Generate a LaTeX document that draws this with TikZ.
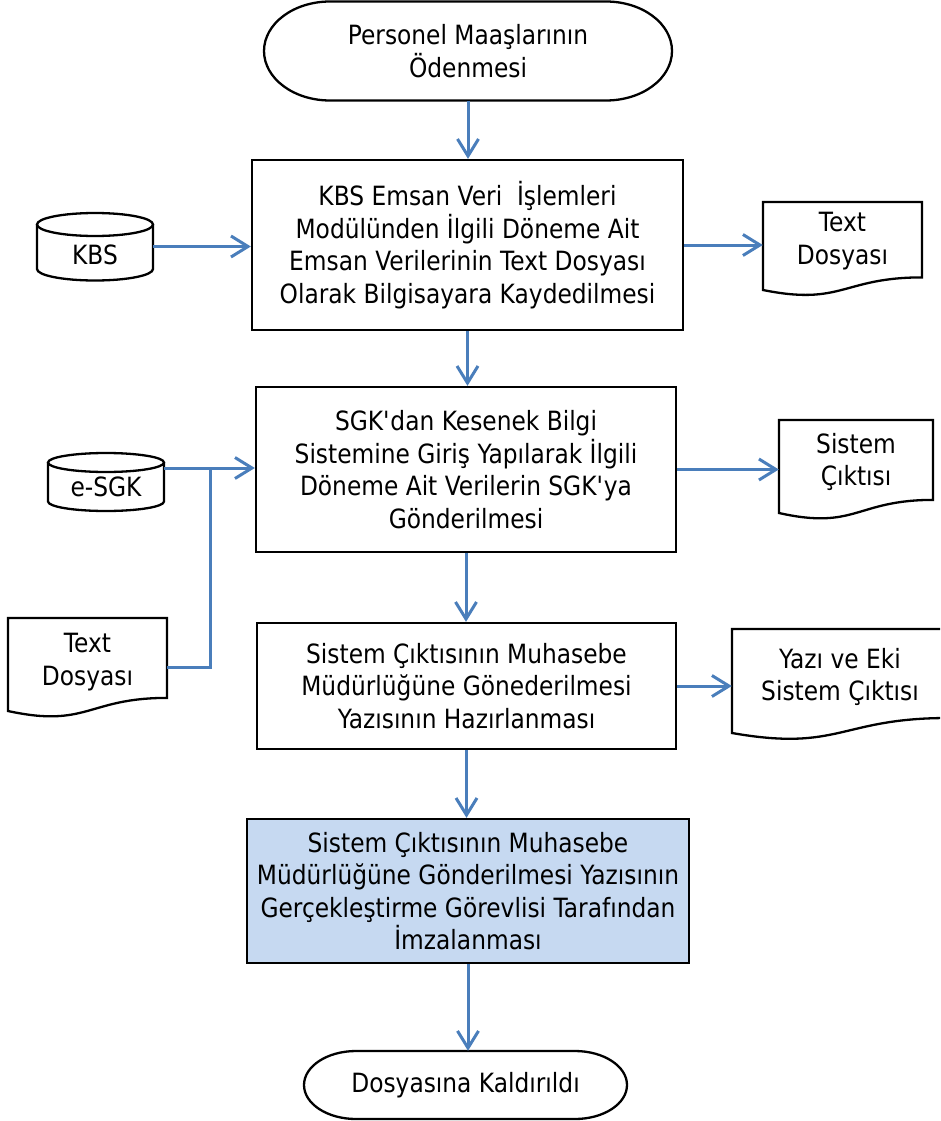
\documentclass[tikz,border=0pt]{standalone}
\usepackage{fontspec}
\setmainfont{DejaVu Sans}[FakeStretch=0.88]
\usetikzlibrary{arrows.meta}
\definecolor{lineblue}{HTML}{4A7EBB}
\definecolor{boxblue}{HTML}{C6D9F1}
\newcommand\flowfont{\fontsize{26.5}{32.5}\selectfont}
\tikzset{
  txt/.style={inner sep=0pt, align=center, font=\flowfont},
  box/.style={txt, draw=black, line width=2.3pt},
  outline/.style={draw=black, line width=2.3pt},
  conn/.style={draw=lineblue, line width=3pt},
  arr/.style={conn, -{Straight Barb[length=17pt,width=21pt]}}
}
\begin{document}
\begin{tikzpicture}[x=1pt,y=-1pt]
\useasboundingbox (0,0) rectangle (940,1121);
\clip (0,0) rectangle (940,1121);
% terminators
\draw[outline] (330,1.5) -- (606,1.5) arc[start angle=-90,end angle=90,x radius=66,y radius=49.5] -- (330,100.5) arc[start angle=90,end angle=270,x radius=66,y radius=49.5] -- cycle;
\node[txt, minimum width=408pt, minimum height=99pt] (start) at (468,51) {Personel Maaşlarının\\Ödenmesi};
\draw[outline] (356,1051) -- (575,1051) arc[start angle=-90,end angle=90,x radius=52,y radius=34] -- (356,1119) arc[start angle=90,end angle=270,x radius=52,y radius=34] -- cycle;
\node[txt, minimum width=323pt, minimum height=68pt] (end) at (465.5,1085) {Dosyasına Kaldırıldı};
% process boxes
\node[box, minimum width=431pt, minimum height=170pt] (b1) at (467.5,245) {KBS Emsan Veri\ \ İşlemleri\\Modülünden İlgili Döneme Ait\\Emsan Verilerinin Text Dosyası\\Olarak Bilgisayara Kaydedilmesi};
\node[box, minimum width=420pt, minimum height=165pt] (b2) at (466,469.5) {SGK\textquotesingle dan Kesenek Bilgi\\Sistemine Giriş Yapılarak İlgili\\Döneme Ait Verilerin SGK\textquotesingle ya\\Gönderilmesi};
\node[box, minimum width=419pt, minimum height=126pt] (b3) at (466.5,686) {Sistem Çıktısının Muhasebe\\Müdürlüğüne Gönederilmesi\\Yazısının Hazırlanması};
\node[box, fill=boxblue, minimum width=442pt, minimum height=144pt] (b4) at (468,891) {Sistem Çıktısının Muhasebe\\Müdürlüğüne Gönderilmesi Yazısının\\Gerçekleştirme Görevlisi Tarafından\\İmzalanması};
% cylinders
\draw[outline] (37,224.5) -- (37,269) arc[start angle=180,end angle=0,x radius=58,y radius=11.5] -- (153,224.5);
\draw[outline] (95,224.5) ellipse[x radius=58,y radius=11.5];
\node[inner sep=0pt, minimum width=116pt, minimum height=67pt] (kbs) at (95,246.5) {};
\node[txt] (kbsl) at (95,255) {KBS};
\draw[outline] (48,462.5) -- (48,501.5) arc[start angle=180,end angle=0,x radius=58,y radius=9.5] -- (164,462.5);
\draw[outline] (106,462.5) ellipse[x radius=58,y radius=9.5];
\node[inner sep=0pt, minimum width=116pt, minimum height=58pt] (esgk) at (106,482) {};
\node[txt] (esgkl) at (106,487) {e-SGK};
% documents
\draw[outline] (763,202) -- (922,202) -- (922,277.4) .. controls (842.5,277.4) and (842.5,306.1) .. (763,290) -- cycle;
\node[txt, minimum width=159pt] (td1) at (842.5,241) {Text\\Dosyası};
\draw[outline] (779,420) -- (933,420) -- (933,499.9) .. controls (856,499.9) and (856,530.3) .. (779,513) -- cycle;
\node[txt, minimum width=154pt] (sc) at (856,462) {Sistem\\Çıktısı};
\draw[outline] (8,618) -- (167,618) -- (167,697.9) .. controls (87.5,697.9) and (87.5,728.3) .. (8,711) -- cycle;
\node[txt, minimum width=159pt] (td2) at (87.5,662) {Text\\Dosyası};
\draw[outline] (732,629) -- (948,629) -- (948,718) .. controls (840,718) and (840,752) .. (732,733) -- cycle;
\node[txt, minimum width=216pt] (yazi) at (840,677) {Yazı ve Eki\\Sistem Çıktısı};
% connectors
\coordinate (j) at (210,468);
\coordinate (k) at (210,667);
\draw[arr] (start.south) -- (start.south |- b1.north);
\draw[arr] (kbs.east) -- (kbs.east -| b1.west);
\draw[arr] (b1.east) -- (b1.east -| td1.west);
\draw[arr] (b1.south) -- (b1.south |- b2.north);
\draw[arr] (esgk.east |- j) -- (j -| b2.west);
\draw[conn] (td2.east |- k) -- (k) -- (j);
\draw[arr] (b2.east) -- (b2.east -| sc.west);
\draw[arr] (b2.south) -- (b2.south |- b3.north);
\draw[arr] (b3.east) -- (b3.east -| yazi.west);
\draw[arr] (b3.south) -- (b3.south |- b4.north);
\draw[arr] (b4.south) -- (b4.south |- end.north);
\end{tikzpicture}
\end{document}
